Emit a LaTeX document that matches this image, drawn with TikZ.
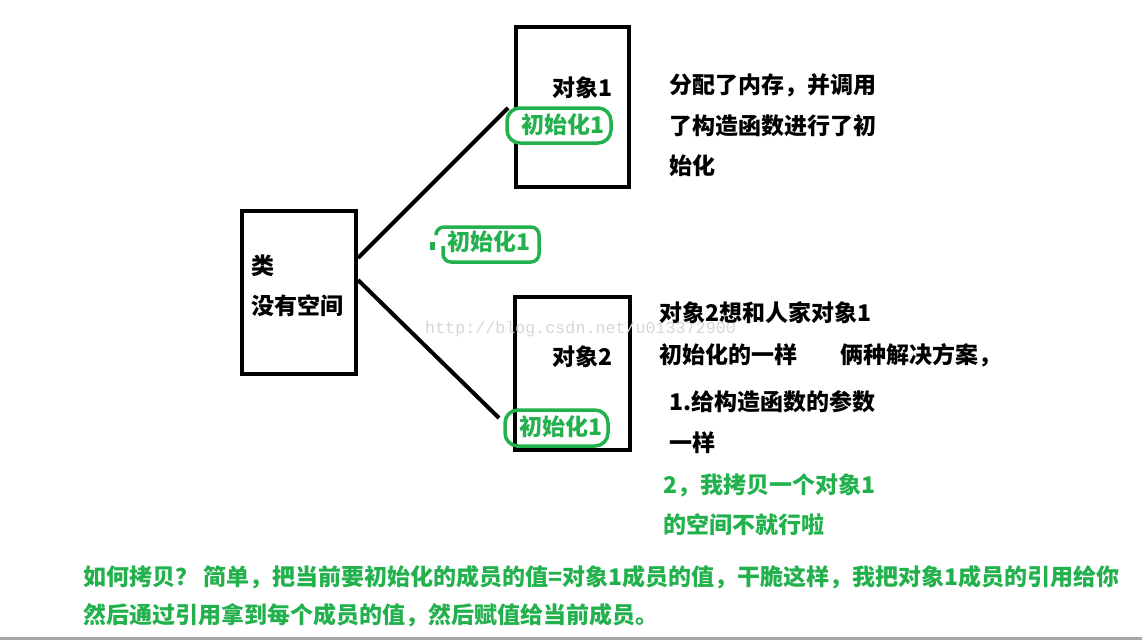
\documentclass[tikz,border=0pt]{standalone}
\usepackage{fontspec}
\setmainfont{Noto Sans CJK SC}[BoldFont={Noto Sans CJK SC Black}]
\newfontfamily\wmfont{Liberation Mono}
\definecolor{pgreen}{RGB}{34,177,76}
\definecolor{wmgray}{RGB}{215,215,215}
\begin{document}
\begin{tikzpicture}[x=1pt,y=-1pt,
  objbox/.style={draw=black,line width=4pt,minimum width=#1},
  initbox/.style={draw=pgreen,line width=3.5pt,rounded corners=13pt},
  conn/.style={draw=black,line width=4pt},
  lbl/.style={font=\bfseries\fontsize{23}{23}\selectfont,inner sep=0pt,anchor=west},
  glbl/.style={lbl,text=pgreen}]
\useasboundingbox (0,0) rectangle (1142,640);
\fill[white] (0,0) rectangle (1142,640);
% connector ends
\coordinate (c1s) at (358,258);
\coordinate (c2s) at (358,280);
\coordinate (c1e) at (508,108);
\coordinate (c2e) at (499,418);
\draw[conn] (c1s) -- (c1e);
\draw[conn] (c2s) -- (c2e);
% boxes
\node[objbox=114pt,minimum height=163pt] (cls) at (299,292.5) {};
\node[objbox=113pt,minimum height=160pt] (obj1) at (572.5,107) {};
\node[objbox=115pt,minimum height=153pt] (obj2) at (572.5,373.5) {};
% green init frames
\node[initbox,fill=white,minimum width=104pt,minimum height=35pt] (g1) at (559,125.5) {};
\node[initbox,minimum width=103pt,minimum height=36pt] (g2) at (556.5,428) {};
% middle partial frame
\draw[pgreen,line width=3.5pt,rounded corners=8pt]
  (443,246) -- (443,262) -- (539,262) -- (539,227) -- (436,227) -- (436,233);
\fill[pgreen] (430,242) rectangle (435,250);
% watermark
\node[text=wmgray,font=\wmfont\fontsize{16.7}{17}\selectfont,inner sep=0pt,anchor=west] (wm) at (425,329) {http://blog.csdn.net/u013372900};
% labels in boxes
\node[lbl] (clsa) at (251,266) {类};
\node[lbl] (clsb) at (251,306) {没有空间};
\node[lbl] (o1) at (552,88) {对象1};
\node[lbl] (o2) at (552,357) {对象2};
\node[glbl] (i1) at (521,125) {初始化1};
\node[glbl] (im) at (447,242) {初始化1};
\node[glbl] (i2) at (519,427) {初始化1};
% right notes
\node[lbl] (n1a) at (669,85) {分配了内存，并调用};
\node[lbl] (n1b) at (669,126) {了构造函数进行了初};
\node[lbl] (n1c) at (669,166) {始化};
\node[lbl] (n2a) at (659,313) {对象2想和人家对象1};
\node[lbl] (n2b) at (659,355) {初始化的一样};
\node[lbl] (n2c) at (840,355) {俩种解决方案，};
\node[lbl] (n2d) at (669,402) {1.给构造函数的参数};
\node[lbl] (n2e) at (669,443) {一样};
\node[glbl] (n2f) at (663,485) {2，我拷贝一个对象1};
\node[glbl] (n2g) at (663,525) {的空间不就行啦};
% bottom
\node[glbl] (b1) at (83,577) {如何拷贝？ 简单，把当前要初始化的成员的值=对象1成员的值，干脆这样，我把对象1成员的引用给你};
\node[glbl] (b2) at (83,615) {然后通过引用拿到每个成员的值，然后赋值给当前成员。};
% bottom rule
\fill[gray!70] (0,637) rectangle (1142,640);
\end{tikzpicture}
\end{document}
